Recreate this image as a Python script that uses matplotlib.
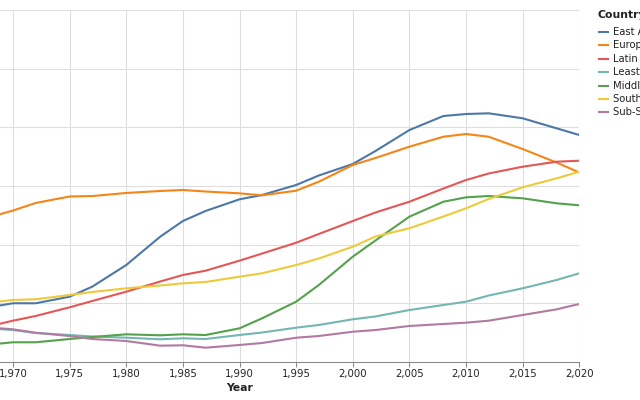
# Regional trend lines, 1968-2020 (cropped Vega-Lite style view)
import matplotlib
matplotlib.use("Agg")
import matplotlib.pyplot as plt
from matplotlib.lines import Line2D
from matplotlib.ticker import FuncFormatter

plt.rcParams["font.family"] = ["DejaVu Sans"]

years = [1968, 1970, 1972, 1975, 1977, 1980, 1983, 1985, 1987, 1990, 1992,
         1995, 1997, 2000, 2002, 2005, 2008, 2010, 2012, 2015, 2018, 2020]

regions = ["East Asia & Pacific", "Europe & Central Asia",
           "Latin America & Caribbean",
           "Least developed countries: UN classification",
           "Middle East & North Africa", "South Asia", "Sub-Saharan Africa"]

east_asia = [9.37, 10.01, 10.01, 11.13, 12.84, 16.53, 21.36, 24.03, 25.74, 27.73, 28.47,
             30.17, 31.79, 33.75, 35.96, 39.54, 41.93, 42.27, 42.39, 41.54, 39.83, 38.69]
europe = [24.72, 25.82, 27.10, 28.21, 28.29, 28.81, 29.15, 29.32, 29.06, 28.75, 28.41,
          29.20, 30.73, 33.58, 34.77, 36.70, 38.40, 38.86, 38.40, 36.30, 34.00, 32.30]
latin = [6.14, 7.04, 7.84, 9.32, 10.40, 11.98, 13.72, 14.83, 15.56, 17.27, 18.49,
         20.33, 21.82, 24.03, 25.48, 27.32, 29.57, 31.02, 32.13, 33.29, 34.14, 34.31]
least_dev = [5.71, 5.45, 4.94, 4.60, 4.35, 4.14, 3.87, 4.04, 3.92, 4.60, 5.03,
             5.85, 6.31, 7.28, 7.76, 8.86, 9.72, 10.28, 11.33, 12.56, 13.98, 15.12]
mideast = [2.98, 3.36, 3.36, 3.92, 4.26, 4.72, 4.55, 4.72, 4.60, 5.74, 7.45,
           10.28, 13.12, 17.95, 20.71, 24.77, 27.32, 28.07, 28.29, 27.90, 27.05, 26.71]
south_asia = [10.14, 10.57, 10.69, 11.42, 11.93, 12.56, 13.04, 13.41, 13.64, 14.54, 15.12,
              16.53, 17.64, 19.65, 21.39, 22.79, 24.80, 26.20, 27.78, 29.78, 31.31, 32.44]
subsahara = [5.88, 5.57, 4.99, 4.43, 3.92, 3.58, 2.78, 2.85, 2.44, 2.90, 3.24,
             4.14, 4.43, 5.16, 5.45, 6.14, 6.48, 6.70, 7.04, 8.01, 8.98, 9.89]

series = [east_asia, europe, latin, least_dev, mideast, south_asia, subsahara]
colors = ["#4c78a8", "#f58518", "#e45756", "#72b7b2", "#54a24b", "#eeca3b", "#b279a2"]

W, H = 640, 400
fig = plt.figure(figsize=(6.4, 4.0), dpi=100)
# plot area runs past the left edge of the picture (cropped view)
ax = fig.add_axes([-100.3 / W, 38 / H, 679.6 / W, 352 / H])

for vals, c, name in zip(series, colors, regions):
    ax.plot(years, vals, color=c, lw=1.5, label=name, solid_capstyle="butt", zorder=3)

ax.set_xlim(1960, 2020)
ax.set_ylim(0, 60)
ax.set_xticks(range(1960, 2021, 5))
ax.set_yticks(range(0, 61, 10))
ax.xaxis.set_major_formatter(FuncFormatter(lambda v, p: f"{int(v):,}"))
ax.grid(True, color="#dddddd", lw=0.75, zorder=0)
for s in ["top", "right", "left"]:
    ax.spines[s].set_visible(False)
ax.spines["bottom"].set_color("#888888")
ax.spines["bottom"].set_linewidth(0.75)
ax.tick_params(axis="x", length=3.6, width=0.75, color="#888888", pad=1.5,
               labelsize=7.3, labelcolor="#222222")
ax.tick_params(axis="y", length=0, labelleft=False)
ax.set_xlabel("Year", fontsize=7.8, fontweight="bold", labelpad=2.5, color="#222222")

# legend
fig.text(598 / W, 1 - 15 / H, "Country", fontsize=7.8, fontweight="bold",
         va="center", ha="left", color="#222222")
for i, (name, c) in enumerate(zip(regions, colors)):
    y = 1 - (32 + i * 13.4) / H
    fig.add_artist(Line2D([599 / W, 608 / W], [y, y], color=c, lw=1.5,
                          transform=fig.transFigure))
    fig.text(613 / W, y, name, fontsize=7.2, va="center", ha="left", color="#222222")

fig.savefig("out.png", dpi=100)
